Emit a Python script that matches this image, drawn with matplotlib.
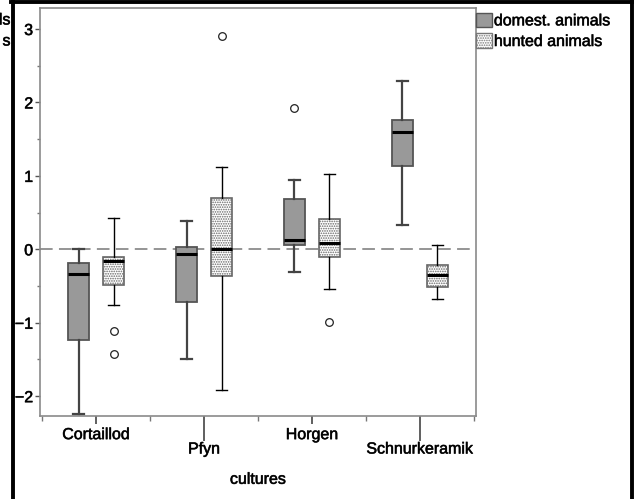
import matplotlib
matplotlib.use("Agg")
import matplotlib.pyplot as plt
import matplotlib.patheffects as pe
from matplotlib.lines import Line2D
from matplotlib.patches import Patch

# values
cultures = ["Cortaillod", "Pfyn", "Horgen", "Schnurkeramik"]

dom_whislo = [-2.24, -1.50, -0.31, 0.33]
dom_q1 = [-1.23, -0.72, 0.06, 1.14]
dom_med = [-0.34, -0.06, 0.12, 1.60]
dom_q3 = [-0.19, 0.03, 0.68, 1.76]
dom_whishi = [0.00, 0.38, 0.94, 2.29]
dom_fliers = [[], [], [1.93], []]

hunt_whislo = [-0.76, -1.91, -0.54, -0.68]
hunt_q1 = [-0.48, -0.37, -0.10, -0.52]
hunt_med = [-0.16, 0.01, 0.09, -0.35]
hunt_q3 = [-0.11, 0.70, 0.41, -0.21]
hunt_whishi = [0.42, 1.12, 1.03, 0.06]
hunt_fliers = [[-1.11, -1.43], [2.90], [-0.99], []]

plt.rcParams["font.family"] = ["Liberation Sans", "DejaVu Sans"]
plt.rcParams["font.size"] = 11.5
plt.rcParams["hatch.color"] = "#8a8a8a"
plt.rcParams["hatch.linewidth"] = 0.8

# slightly heavier text, like the SPSS export
heavy = [pe.withStroke(linewidth=0.45, foreground="#222222")]

W, H = 634, 499
fig = plt.figure(figsize=(W / 100, H / 100), dpi=100)
ax = fig.add_axes([40 / W, 1 - 416 / H, (476 - 40) / W, (416 - 8) / H])


def make_stats(lo, q1, med, q3, hi, fl):
    return [dict(whislo=a, q1=b, med=c, q3=d, whishi=e, fliers=f)
            for a, b, c, d, e, f in zip(lo, q1, med, q3, hi, fl)]


pos = list(range(1, len(cultures) + 1))
off = 0.162
flier = dict(marker="o", markerfacecolor="white", markeredgecolor="#222222",
             markersize=5.5, markeredgewidth=0.9, linestyle="none")

# zero reference line
ax.axhline(0, color="#8c8c8c", lw=1.3, dashes=(7, 3.5), zorder=1)

ax.bxp(make_stats(dom_whislo, dom_q1, dom_med, dom_q3, dom_whishi, dom_fliers),
       positions=[p - off for p in pos], widths=0.2, patch_artist=True,
       boxprops=dict(facecolor="#999999", edgecolor="#555555", lw=1.3),
       whiskerprops=dict(color="#444444", lw=1.6),
       capprops=dict(color="#444444", lw=1.6),
       medianprops=dict(color="black", lw=2.2),
       flierprops=flier, manage_ticks=False, zorder=3)

ax.bxp(make_stats(hunt_whislo, hunt_q1, hunt_med, hunt_q3, hunt_whishi, hunt_fliers),
       positions=[p + off for p in pos], widths=0.2, patch_artist=True,
       boxprops=dict(facecolor="white", edgecolor="#666666", lw=1.2, hatch="......."),
       whiskerprops=dict(color="black", lw=1.0),
       capprops=dict(color="black", lw=1.0),
       medianprops=dict(color="black", lw=2.2),
       flierprops=flier, manage_ticks=False, zorder=3)

ax.set_xlim(0.48, 4.52)
ax.set_ylim(-2.27, 3.286)

for s in ax.spines.values():
    s.set_color("#8a8a8a")
    s.set_linewidth(1.2)

ax.set_yticks([-2, -1, 0, 1, 2, 3])
ax.set_yticks([-1.5, -0.5, 0.5, 1.5, 2.5], minor=True)
ax.tick_params(axis="y", which="major", length=3.5, width=1, color="#555555", pad=1.5)
ax.tick_params(axis="y", which="minor", length=2.5, width=1, color="#777777")

labels = [c if i % 2 == 0 else "\n" + c for i, c in enumerate(cultures)]
ax.set_xticks(pos)
ax.set_xticklabels(labels, linespacing=0.95)
ax.set_xticks([p - 0.5 for p in pos] + [pos[-1] + 0.5], minor=True)
ax.tick_params(axis="x", which="major", length=6, width=1.2, color="#444444", pad=2)
ax.tick_params(axis="x", which="minor", length=3.6, width=1, color="#777777")
for i, t in enumerate(ax.xaxis.get_major_ticks()):
    if i % 2 == 1:
        t.tick1line.set_markersize(18)

ax.set_xlabel("cultures", labelpad=11)

for t in ax.get_xticklabels() + ax.get_yticklabels() + [ax.xaxis.label]:
    t.set_path_effects(heavy)

leg_handles = [Patch(facecolor="#999999", edgecolor="#555555", lw=1.0),
               Patch(facecolor="white", edgecolor="#777777", lw=1.0, hatch=".......")]
leg = fig.legend(leg_handles, ["domest. animals", "hunted animals"], loc="upper left",
                 bbox_to_anchor=(476 / W, 1 - 12.5 / H), frameon=False,
                 handlelength=1.0, handleheight=1.05, handletextpad=0.12,
                 borderpad=0, borderaxespad=0, labelspacing=0.3)
for t in leg.get_texts():
    t.set_path_effects(heavy)

# cut-off legend text from neighbouring panel
for yy, s in [(20, "als"), (41, "s")]:
    fig.text(10.5 / W, 1 - yy / H, s, ha="right", va="center", path_effects=heavy)

# black frame
fig.add_artist(Line2D([12.5 / W, 12.5 / W], [0, 1], color="black", lw=2.8))
fig.add_artist(Line2D([11 / W, 1], [1 - 2 / H, 1 - 2 / H], color="black", lw=2.8))
fig.add_artist(Line2D([632 / W, 632 / W], [0, 1], color="black", lw=2.8))

fig.savefig("out.png", dpi=100)
